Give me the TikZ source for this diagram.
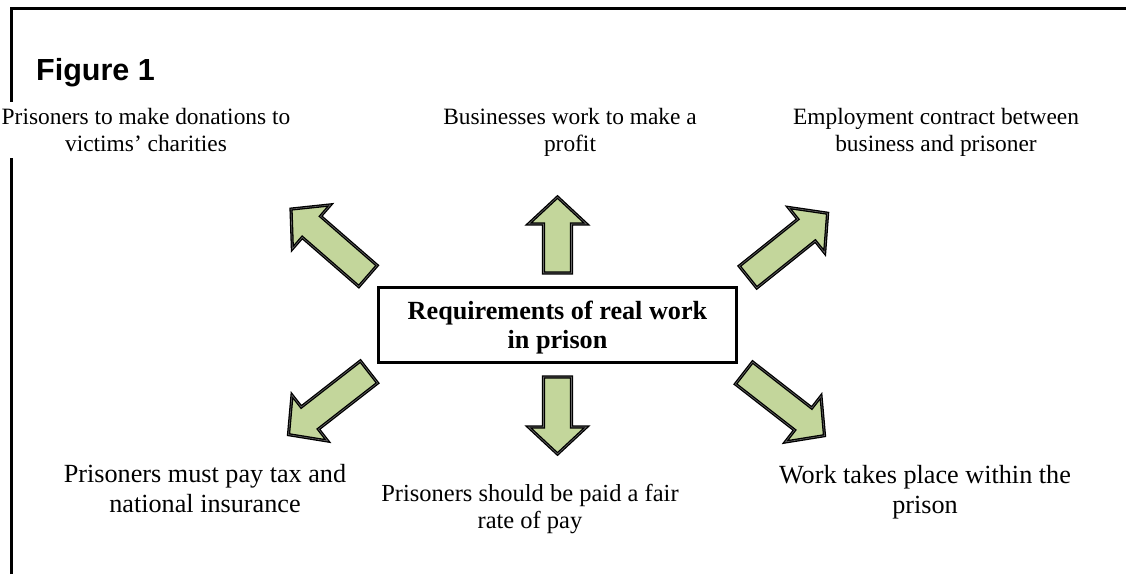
\documentclass[tikz,border=0pt]{standalone}
\usepackage{fontspec}
\setmainfont{Liberation Serif}
\newfontfamily\arialfont{Liberation Sans}
\definecolor{arrgreen}{HTML}{C3D69B}
\newcommand\blockarrow[4]{%
  \begin{scope}[shift={#2},rotate=#3]
    \draw[blk] (0,-14) -- (#4-27,-14) -- (#4-27,-29) -- (#4,0) -- (#4-27,29) -- (#4-27,14) -- (0,14) -- cycle;
    \coordinate (#1) at (#4,0);
  \end{scope}}
\begin{document}
\begin{tikzpicture}[x=1pt,y=-1pt,
  frameline/.style={line width=3pt},
  lbl/.style={align=center, inner sep=0pt, font=\fontsize{23.4}{27}\selectfont},
  lblb/.style={align=center, inner sep=0pt, font=\fontsize{26.2}{30}\selectfont},
  blk/.style={fill=arrgreen, draw=black, line width=1.3pt, double=black!60, double distance=0.6pt, line join=miter}]
\useasboundingbox (0,0) rectangle (1126,574);
\draw[frameline] (11,574) -- (11,8) -- (1127,8);
\node[anchor=base west, inner sep=0pt, font=\arialfont\bfseries\fontsize{30.5}{34}\selectfont] (fig) at (36,80) {Figure 1};
\node[lbl, fill=white, inner ysep=6pt, inner xsep=2pt] (tl) at (146,130) {Prisoners to make donations to\\victims’ charities};
\node[lbl] (tc) at (570,132) {Businesses work to make a\\profit};
\node[lbl] (tr) at (936,132) {Employment contract between\\business and prisoner};
\node[lblb] (bl) at (205,489) {Prisoners must pay tax and\\national insurance};
\node[align=center, inner sep=0pt, font=\fontsize{24.5}{27}\selectfont] (bc) at (530,509) {Prisoners should be paid a fair\\rate of pay};
\node[lblb] (br) at (925,492) {Work takes place within the\\prison};
\node[draw, line width=3pt, minimum width=358pt, minimum height=75pt, inner sep=0pt] (req) at (557.5,325) {};
\node[align=center, inner sep=0pt, font=\bfseries\fontsize{26.2}{29}\selectfont] (reqtext) at (557.5,328) {Requirements of real work\\in prison};
\blockarrow{atl}{(368,276)}{139}{102}
\blockarrow{atc}{(557.5,273)}{90}{76}
\blockarrow{atr}{(748,277)}{38.7}{102}
\blockarrow{abl}{(369,372)}{217.9}{102}
\blockarrow{abc}{(557.5,377)}{-90}{77}
\blockarrow{abr}{(744,373)}{-37.9}{102}
\end{tikzpicture}
\end{document}
